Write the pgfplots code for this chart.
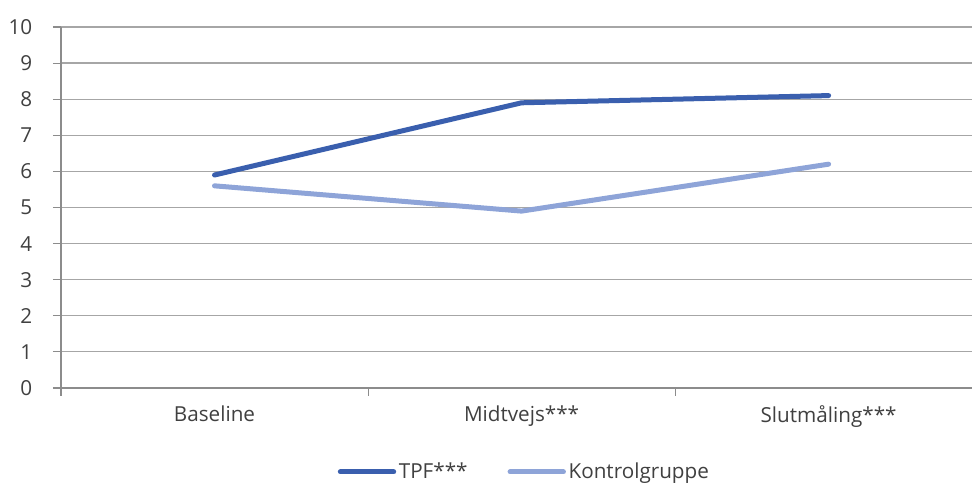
\documentclass[border=0pt]{standalone}
\usepackage{pgfplots}
\pgfplotsset{compat=1.18}
\usepackage{fontspec}
\setmainfont{Open Sans}

\definecolor{tpf}{HTML}{3A5FAE}
\definecolor{kontrol}{HTML}{8EA4D8}
\definecolor{gridgray}{HTML}{A6A6A6}
\definecolor{axisgray}{HTML}{8C8C8C}
\definecolor{txt}{HTML}{404040}

\begin{document}
\begin{tikzpicture}
\begin{axis}[
  scale only axis,
  width=683.25pt, height=270.75pt,
  xmin=-0.5, xmax=2.467,
  ymin=0, ymax=10,
  axis x line=bottom, axis y line=left,
  axis line style={axisgray, line width=1.1pt, -},
  xtick={-0.5,0.5,1.5,2.5},
  xticklabels={},
  extra x ticks={0,1,2},
  extra x tick labels={Baseline,Midtvejs***,Slutmåling***},
  extra x tick style={major tick length=0pt, grid=none},
  ytick={0,1,...,10},
  ymajorgrids=true,
  grid style={gridgray, line width=0.9pt},
  tick style={axisgray, line width=0.8pt},
  tick align=outside,
  major tick length=6pt,
  x tick label style={yshift=-10pt},
  y tick label style={xshift=-12pt},
  ticklabel style={font=\fontsize{15.5}{18}\selectfont, text=txt},
  /pgf/number format/assume math mode=true,
  legend columns=2,
  legend style={at={(0.509,0)}, anchor=center, yshift=-63pt, draw=none,
    font=\fontsize{15.5}{18}\selectfont, text=txt,
    /tikz/every even column/.append style={column sep=28pt}},
  legend cell align=left,
  legend image code/.code={\draw[#1, line width=3.75pt, line cap=round] (0pt,0pt) -- (40pt,0pt);},
]
\coordinate (ll) at (rel axis cs:0,0);
\coordinate (ur) at (rel axis cs:1,1);
\addplot[tpf, line width=3.75pt, line cap=round, line join=round] coordinates {
(0,5.9) (1,7.9) (2,8.1)
};
\addlegendentry{TPF***}
\addplot[kontrol, line width=3.75pt, line cap=round, line join=round] coordinates {
(0,5.6) (1,4.9) (2,6.2)
};
\addlegendentry{Kontrolgruppe}
\end{axis}
\pgfresetboundingbox
\path[use as bounding box] ([xshift=-45.75pt,yshift=-72pt]ll) rectangle ([yshift=20.25pt]ur);
\end{tikzpicture}
\end{document}
